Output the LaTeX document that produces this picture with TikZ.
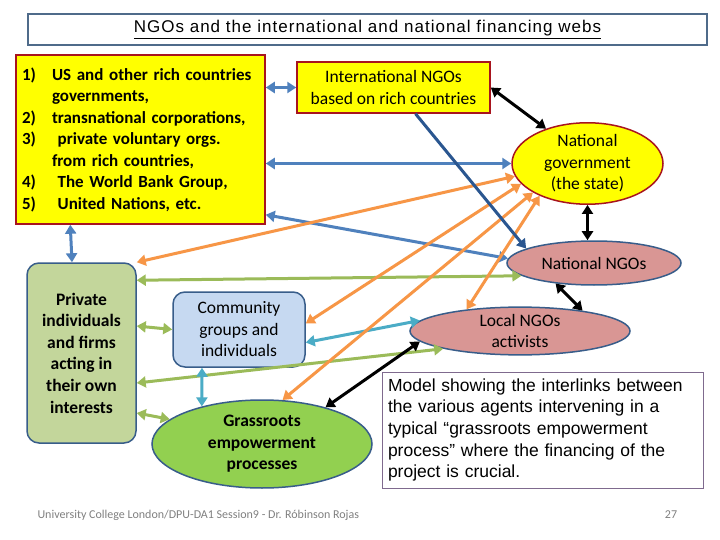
\documentclass[tikz,border=0pt]{standalone}
\usepackage{fontspec}
\setmainfont{Carlito}
\newfontfamily\arialfont{Liberation Sans}
\newfontfamily\titlefont[LetterSpace=6]{Liberation Sans}
\usetikzlibrary{arrows.meta,shapes.geometric}
\definecolor{boxyellow}{HTML}{FFFF00}
\definecolor{boxred}{HTML}{A8141E}
\definecolor{edgeblue}{HTML}{385D8A}
\definecolor{linkblue}{HTML}{4F81BD}
\definecolor{linknavy}{HTML}{2A5690}
\definecolor{linkorange}{HTML}{F79646}
\definecolor{linkgreen}{HTML}{9BBB59}
\definecolor{linkteal}{HTML}{4BACC6}
\definecolor{natpink}{HTML}{D99694}
\definecolor{privgreen}{HTML}{C3D69B}
\definecolor{commblue}{HTML}{C6D9F1}
\definecolor{grassgreen}{HTML}{92D050}
\definecolor{titleframe}{HTML}{4F6B8A}
\definecolor{modelframe}{HTML}{7F6A8E}

\begin{document}
\begin{tikzpicture}[x=1pt,y=-1pt,
	donor/.style={draw=boxred, line width=1.5pt, fill=boxyellow, inner sep=0pt},
	agent/.style={draw=edgeblue, line width=1.5pt, inner sep=0pt},
	body/.style={font=\fontsize{17.5}{21.5}\selectfont, align=center},
	link/.style={line width=3pt, {Triangle[width=11pt,length=9pt]}-{Triangle[width=11pt,length=9pt]}},
	single/.style={line width=3pt, -{Triangle[width=11pt,length=9pt]}}]
	\useasboundingbox [fill=white] (0,0) rectangle (720,540);
	\node [draw=titleframe, line width=1.5pt, fill=white, minimum width=679pt, minimum height=31pt, font=\titlefont\fontsize{17}{18}\selectfont] (title) at (367.5,29.5) {\underline{NGOs and the international and national financing webs}};
	\node [donor, minimum width=249pt, minimum height=169pt, text width=237pt, align=left, font=\bfseries\fontsize{17}{21.5}\selectfont] (rich) at (140.5,139.5) {\makebox[30pt][l]{1)}US and other rich countries\\
		\hspace*{30pt}governments,\\
		\makebox[30pt][l]{2)}transnational corporations,\\
		\makebox[30pt][l]{3)}\ private voluntary orgs.\\
		\hspace*{30pt}from rich countries,\\
		\makebox[30pt][l]{4)}\ The World Bank Group,\\
		\makebox[30pt][l]{5)}\ United Nations, etc.};
	\node [donor, body, minimum width=193pt, minimum height=51pt] (intl) at (393.5,87.5) {International NGOs\\based on rich countries};
	\node [donor, body, ellipse, minimum width=151pt, minimum height=79pt] (gov) at (587.5,163.5) {National\\government\\(the state)};
	\node [agent, body, ellipse, fill=natpink, minimum width=174pt, minimum height=44pt] (natngo) at (594,263) {National NGOs};
	\node [agent, body, ellipse, fill=natpink, minimum width=220pt, minimum height=45pt] (local) at (520,331) {Local NGOs\\activists};
	\node [agent, body, font=\bfseries\fontsize{17.5}{21.6}\selectfont, rounded corners=12pt, fill=privgreen, minimum width=109pt, minimum height=180pt] (private) at (81.5,353) {Private\\individuals\\and firms\\acting in\\their own\\interests};
	\node [agent, body, rounded corners=12pt, fill=commblue, minimum width=132pt, minimum height=75pt] (comm) at (239,329.5) {Community\\groups and\\individuals};
	\node [agent, body, font=\bfseries\fontsize{17.5}{21.5}\selectfont, ellipse, fill=grassgreen, minimum width=220pt, minimum height=88pt] (grass) at (262,444) {Grassroots\\empowerment\\processes};
	\node [draw=modelframe, line width=1pt, fill=white, minimum width=321pt, minimum height=116pt, text width=309pt, align=left, font=\arialfont\fontsize{17.5}{21.7}\selectfont] (model) at (542.5,430) {Model showing the interlinks between\\the various agents intervening in a\\typical “grassroots empowerment\\process” where the financing of the\\project is crucial.};
	\node [anchor=west, text=gray, font=\fontsize{12}{14}\selectfont] (credit) at (34,515) {University College London/DPU-DA1 Session9 - Dr. Róbinson Rojas};
	\node [text=gray, font=\fontsize{12}{14}\selectfont] (page) at (671,515) {27};
	\draw [link, linkblue] (rich.east |- intl.west) -- (intl.west);
	\draw [link, linkblue] (rich.east |- gov.west) -- (gov.west);
	\draw [link, linkblue] ([xshift=55pt]rich.south west) -- ([xshift=-9.5pt]private.north);
	\draw [link, linkblue] ([yshift=10pt]rich.south east) -- (natngo.177);
	\draw [link, linkgreen] ([yshift=-18pt]private.north east) -- (natngo.190);
	\draw [link, linkgreen] ([yshift=27pt]private.east) -- (comm.west);
	\draw [link, linkgreen] ([yshift=-30pt]private.east) -- (local.193);
	\draw [link, linkgreen] ([yshift=-60pt]private.east) -- (grass.165);
	\draw [link, linkteal] ([yshift=-13pt]comm.east) -- (local.174);
	\draw [link, linkteal] ([xshift=-37pt]comm.south) -- (grass.148);
	\draw [link, linkorange] (gov.190) -- (private.north east);
	\draw [link, linkorange] (gov.197) -- ([yshift=6pt]comm.east);
	\draw [link, linkorange] (gov.208) -- (grass.65);
	\draw [link, linkorange] (gov.214) -- (local.158);
	\draw [single, linknavy] ([xshift=22pt]intl.south) -- (natngo.168);
	\draw [link, black] (intl.east) -- (gov.140);
	\draw [link, black] (gov.south) -- (gov.south |- natngo.north);
	\draw [link, black] (natngo.208) -- (local.18);
	\draw [link, black] (grass.30) -- (local.186);
\end{tikzpicture}
\end{document}
